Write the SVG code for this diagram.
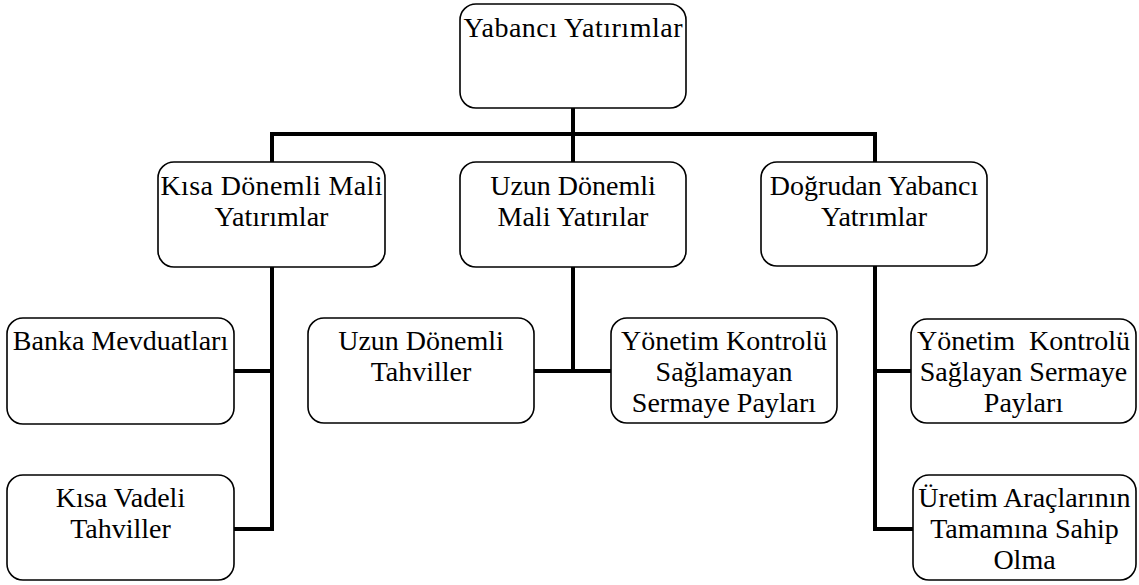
<svg xmlns="http://www.w3.org/2000/svg" width="1139" height="585" viewBox="0 0 1139 585">
<style>
.box{fill:#fff;stroke:#000;stroke-width:1.6}
.t{font-family:'Liberation Serif','Times New Roman',serif;font-size:28px;fill:#000;text-anchor:middle;white-space:pre}
.c{fill:none;stroke:#000;stroke-width:4;stroke-linecap:square}
</style>
<rect width="1139" height="585" fill="#fff"/>
<g id="connectors">
<path class="c" d="M573,108 V160"/>
<path class="c" d="M272,160 V134 H875 V160"/>
<path class="c" d="M272,268 V529 M236,371 H272 M236,529 H272"/>
<path class="c" d="M573,268 V371 M536,371 H609"/>
<path class="c" d="M875,267 V529 M875,371 H909 M875,529 H911"/>
</g>
<g id="root">
<rect class="box" x="460" y="4" width="226" height="104" rx="16"/>
<text class="t" x="573" y="37" textLength="219" lengthAdjust="spacing">Yabancı Yatırımlar</text>
</g>
<g id="kisa">
<rect class="box" x="158" y="162" width="227" height="105" rx="16"/>
<text class="t" x="271.5" y="195" textLength="222" lengthAdjust="spacing">Kısa Dönemli Mali</text>
<text class="t" x="271.5" y="226">Yatırımlar</text>
</g>
<g id="uzun">
<rect class="box" x="460" y="162" width="226" height="105" rx="16"/>
<text class="t" x="573" y="195">Uzun Dönemli</text>
<text class="t" x="573" y="226">Mali Yatırılar</text>
</g>
<g id="dogrudan">
<rect class="box" x="761" y="162" width="226" height="104" rx="16"/>
<text class="t" x="874" y="195">Doğrudan Yabancı</text>
<text class="t" x="874" y="226">Yatrımlar</text>
</g>
<g id="banka">
<rect class="box" x="7" y="318" width="227" height="106" rx="16"/>
<text class="t" x="120.5" y="350">Banka Mevduatları</text>
</g>
<g id="kisavadeli">
<rect class="box" x="7" y="475" width="227" height="105" rx="16"/>
<text class="t" x="120.5" y="507">Kısa Vadeli</text>
<text class="t" x="120.5" y="538">Tahviller</text>
</g>
<g id="uzuntahvil">
<rect class="box" x="308" y="318" width="226" height="105" rx="16"/>
<text class="t" x="421" y="350">Uzun Dönemli</text>
<text class="t" x="421" y="381">Tahviller</text>
</g>
<g id="saglamayan">
<rect class="box" x="611" y="318" width="226" height="105" rx="16"/>
<text class="t" x="724" y="350">Yönetim Kontrolü</text>
<text class="t" x="724" y="381">Sağlamayan</text>
<text class="t" x="724" y="412">Sermaye Payları</text>
</g>
<g id="saglayan">
<rect class="box" x="911" y="319" width="225" height="104" rx="16"/>
<text class="t" x="1023.5" y="350">Yönetim  Kontrolü</text>
<text class="t" x="1023.5" y="381">Sağlayan Sermaye</text>
<text class="t" x="1023.5" y="412">Payları</text>
</g>
<g id="uretim">
<rect class="box" x="913" y="475" width="223" height="105" rx="16"/>
<text class="t" x="1024.5" y="507">Üretim Araçlarının</text>
<text class="t" x="1024.5" y="538">Tamamına Sahip</text>
<text class="t" x="1024.5" y="569">Olma</text>
</g>
</svg>
